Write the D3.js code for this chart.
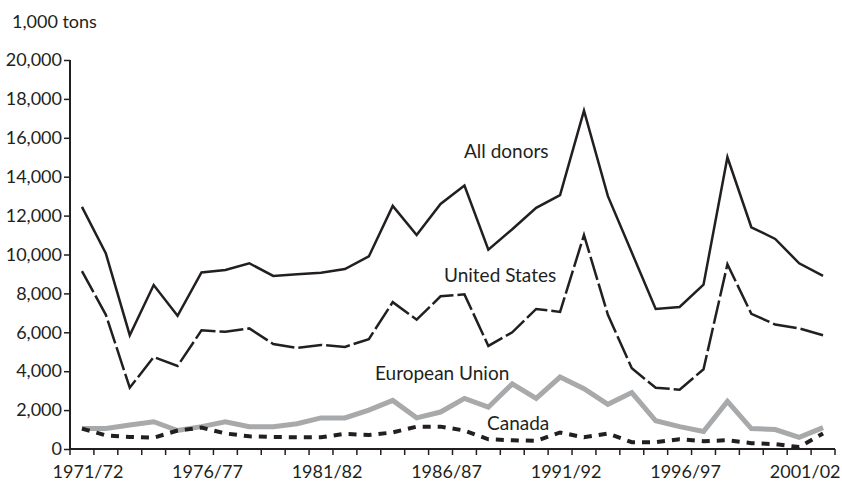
<!DOCTYPE html>
<html>
<head>
<meta charset="utf-8">
<script src="https://cdn.jsdelivr.net/npm/d3@7"></script>
<style>
  body { margin: 0; background: #fff; }
  text { font-family: Lato, "Open Sans", sans-serif; fill: #231f20; }
</style>
</head>
<body>
<div id="chart"></div>
<script>
var seasons = ["1971/72","1972/73","1973/74","1974/75","1975/76","1976/77","1977/78","1978/79",
  "1979/80","1980/81","1981/82","1982/83","1983/84","1984/85","1985/86","1986/87",
  "1987/88","1988/89","1989/90","1990/91","1991/92","1992/93","1993/94","1994/95",
  "1995/96","1996/97","1997/98","1998/99","1999/00","2000/01","2001/02","2002/03"];

var tickSeasons = ["1971/72","1976/77","1981/82","1986/87","1991/92","1996/97","2001/02"];
var yTicks = [0, 2000, 4000, 6000, 8000, 10000, 12000, 14000, 16000, 18000, 20000];

// thousand tons
var allDonors = [12450, 10050, 5850, 8430, 6850, 9080, 9200, 9550, 8900, 8980, 9060, 9250,
  9900, 12500, 11000, 12600, 13550, 10250, 11300, 12400, 13050, 17400, 13000, 10100,
  7200, 7300, 8450, 15000, 11400, 10800, 9550, 8900];
var unitedStates = [9150, 6900, 3150, 4730, 4270, 6100, 6030, 6200, 5400, 5200, 5350, 5250,
  5650, 7550, 6650, 7850, 7950, 5300, 6000, 7200, 7050, 11000, 6900, 4150,
  3150, 3050, 4100, 9500, 6950, 6400, 6200, 5850];
var europeanUnion = [1050, 1050, 1230, 1400, 950, 1150, 1400, 1150, 1150, 1300, 1600, 1600,
  2000, 2500, 1600, 1900, 2600, 2150, 3350, 2600, 3700, 3100, 2300, 2900,
  1450, 1150, 900, 2450, 1050, 1000, 600, 1100];
var canada = [1050, 700, 620, 580, 950, 1100, 800, 650, 620, 600, 600, 780, 720, 850,
  1150, 1150, 950, 500, 450, 420, 850, 600, 800, 350, 350, 500, 400, 450, 300, 250, 100, 800];

var width = 842, height = 481;
var margin = {top: 60, right: 7, bottom: 32, left: 70};

var svg = d3.select("#chart").append("svg")
    .attr("width", width)
    .attr("height", height);

var x = d3.scaleBand()
    .domain(seasons)
    .range([margin.left, width - margin.right]);

var y = d3.scaleLinear()
    .domain([0, 20000])
    .range([height - margin.bottom, margin.top]);

function cx(i) { return x(seasons[i]) + x.bandwidth() / 2; }

// axes
var yAxis = svg.append("g")
    .attr("transform", "translate(" + margin.left + ",0)")
    .call(d3.axisLeft(y).tickValues(yTicks).tickSize(6).tickPadding(2)
      .tickFormat(d3.format(",")));
yAxis.select(".domain").attr("stroke", "#231f20").attr("stroke-width", 2)
    .attr("d", "M0," + y(20000) + "V" + y(0));
yAxis.selectAll(".tick line").attr("stroke", "#231f20").attr("stroke-width", 1.5);
yAxis.selectAll("text").style("font-size", "18px").attr("fill", "#231f20");

var xAxis = svg.append("g")
    .attr("transform", "translate(0," + y(0) + ")");
xAxis.append("line")
    .attr("x1", margin.left).attr("x2", width - margin.right)
    .attr("stroke", "#231f20").attr("stroke-width", 2);
xAxis.selectAll(".xtick")
    .data(seasons.concat(["end"]))
    .enter().append("line")
    .attr("x1", function(d) { return d === "end" ? width - margin.right : x(d); })
    .attr("x2", function(d) { return d === "end" ? width - margin.right : x(d); })
    .attr("y1", 0).attr("y2", 6)
    .attr("stroke", "#231f20").attr("stroke-width", 1.5);
xAxis.selectAll(".xlabel")
    .data(tickSeasons)
    .enter().append("text")
    .attr("x", function(d) { return x(d) + x.bandwidth() / 2 + 6; })
    .attr("y", 29)
    .attr("text-anchor", "middle")
    .style("font-size", "18px")
    .text(function(d) { return d; });

svg.append("text")
    .attr("x", 12).attr("y", 28)
    .style("font-size", "18px")
    .text("1,000 tons");

// lines
var line = d3.line()
    .x(function(d, i) { return cx(i); })
    .y(function(d) { return y(d); });

svg.append("path").datum(europeanUnion)
    .attr("d", line).attr("fill", "none")
    .attr("stroke", "#a8a9ab").attr("stroke-width", 5);

svg.append("path").datum(canada)
    .attr("d", line).attr("fill", "none")
    .attr("stroke", "#231f20").attr("stroke-width", 4)
    .attr("stroke-dasharray", "8,7");

svg.append("path").datum(unitedStates)
    .attr("d", line).attr("fill", "none")
    .attr("stroke", "#231f20").attr("stroke-width", 2.5)
    .attr("stroke-dasharray", "24,4");

svg.append("path").datum(allDonors)
    .attr("d", line).attr("fill", "none")
    .attr("stroke", "#231f20").attr("stroke-width", 2.5);

// series labels
var labels = [
  {text: "All donors", x: 464, y: 158},
  {text: "United States", x: 444, y: 282},
  {text: "European Union", x: 375, y: 380},
  {text: "Canada", x: 487, y: 430}
];
svg.selectAll(".serieslabel")
    .data(labels)
    .enter().append("text")
    .attr("x", function(d) { return d.x; })
    .attr("y", function(d) { return d.y; })
    .style("font-size", "19px")
    .text(function(d) { return d.text; });
</script>
</body>
</html>
